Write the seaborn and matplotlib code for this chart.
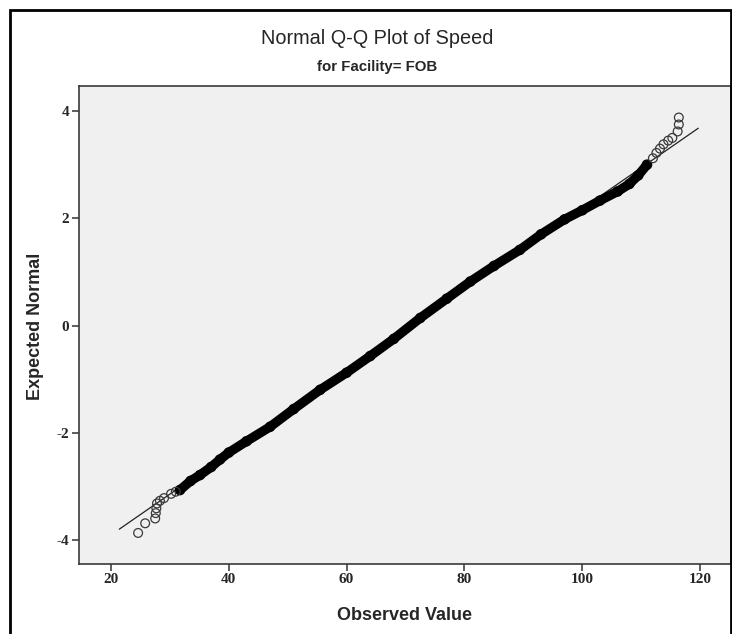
import matplotlib
matplotlib.use("Agg")
import matplotlib.pyplot as plt
from matplotlib.patches import Rectangle
import seaborn as sns
import pandas as pd

# ---- data ----
band_observed = [31.7, 33.5, 35.1, 37.0, 38.5, 40.0, 43.0, 47.0, 51.0, 55.5, 60.0,
                 64.0, 68.0, 72.5, 77.0, 81.0, 85.0, 89.4, 93.0, 97.0, 100.0, 103.0,
                 106.0, 108.0, 109.5, 111.0]
band_expected = [-3.07, -2.90, -2.79, -2.64, -2.50, -2.37, -2.16, -1.89, -1.56, -1.20, -0.88,
                 -0.57, -0.25, 0.14, 0.50, 0.82, 1.11, 1.41, 1.70, 1.98, 2.15, 2.33,
                 2.50, 2.64, 2.80, 3.00]

low_tail_observed = [24.6, 25.8, 27.5, 27.6, 27.7, 27.8, 28.3, 29.0, 30.2, 31.0]
low_tail_expected = [-3.87, -3.69, -3.60, -3.50, -3.41, -3.32, -3.27, -3.22, -3.14, -3.10]

high_tail_observed = [112.0, 112.6, 113.2, 113.8, 114.6, 115.3, 116.2, 116.4, 116.4]
high_tail_expected = [3.12, 3.22, 3.30, 3.38, 3.45, 3.50, 3.62, 3.75, 3.88]

ref_observed = [21.4, 119.7]
ref_expected = [-3.80, 3.68]

x_ticks = [20, 40, 60, 80, 100, 120]
y_ticks = [-4, -2, 0, 2, 4]

title_text = "Normal Q-Q Plot of Speed"
subtitle_text = "for Facility= FOB"
x_label = "Observed Value"
y_label = "Expected Normal"

# ---- styling ----
sns.set_style("white")
plt.rcParams["font.family"] = ["Liberation Sans", "DejaVu Sans"]
plt.rcParams["axes.unicode_minus"] = False

W, H = 732, 634
fig = plt.figure(figsize=(W / 100, H / 100), dpi=100)
fig.patch.set_facecolor("white")

ax_l, ax_r, ax_t, ax_b = 78.5, 731.0, 86.0, 563.5
ax = fig.add_axes([ax_l / W, 1 - ax_b / H, (ax_r - ax_l) / W, (ax_b - ax_t) / H])
ax.set_facecolor("#f0f0f0")

band = pd.DataFrame({"observed": band_observed, "expected": band_expected})
low = pd.DataFrame({"observed": low_tail_observed, "expected": low_tail_expected})
high = pd.DataFrame({"observed": high_tail_observed, "expected": high_tail_expected})
ref = pd.DataFrame({"observed": ref_observed, "expected": ref_expected})

sns.lineplot(data=ref, x="observed", y="expected", ax=ax, color="#222222",
             linewidth=0.9, sort=False, zorder=2)
sns.scatterplot(data=band, x="observed", y="expected", ax=ax, marker="o",
                s=44, facecolors="none", edgecolor="black", linewidth=1.0,
                zorder=2.5)
sns.lineplot(data=band, x="observed", y="expected", ax=ax, color="black",
             linewidth=6.8, sort=False, zorder=3, solid_capstyle="round",
             solid_joinstyle="round")
for d in (low, high):
    sns.scatterplot(data=d, x="observed", y="expected", ax=ax, marker="o",
                    s=40, facecolors="none", edgecolor="#3a3a3a", linewidth=0.9,
                    zorder=4)

ax.set_xlim(14.48, 125.26)
ax.set_ylim(-4.44, 4.468)
ax.set_xticks(x_ticks)
ax.set_yticks(y_ticks)
ax.set_xticklabels([str(v) for v in x_ticks], family=["Liberation Serif"],
                   fontweight="bold", fontsize=11)
ax.set_yticklabels([str(v) for v in y_ticks], family=["Liberation Serif"],
                   fontweight="bold", fontsize=11)
ax.tick_params(axis="both", which="both", direction="out", length=5, width=1.1,
               color="#333333", pad=1.5, bottom=True, left=True, top=False, right=False)
for sp in ax.spines.values():
    sp.set_color("#3a3a3a")
    sp.set_linewidth(1.2)

ax.set_xlabel("")
ax.set_ylabel("")
fig.text((ax_l + ax_r) / 2 / W, 1 - 615 / H, x_label, ha="center", va="center",
         fontsize=13, fontweight="bold")
fig.text(36 / W, 1 - 326 / H, y_label, ha="center", va="center", rotation=90,
         fontsize=13, fontweight="bold")

fig.text(377 / W, 1 - 38 / H, title_text, ha="center", va="center", fontsize=14.3)
fig.text(377 / W, 1 - 67 / H, subtitle_text, ha="center", va="center", fontsize=10.8,
         fontweight="bold")

fig.patches.append(Rectangle((9.5 / W, -0.05), (730.5 - 9.5) / W, 1.05 - 9.5 / H,
                             transform=fig.transFigure, fill=False, linewidth=2.0,
                             edgecolor="black", zorder=10))

fig.savefig("out.png", dpi=100, facecolor="white")
